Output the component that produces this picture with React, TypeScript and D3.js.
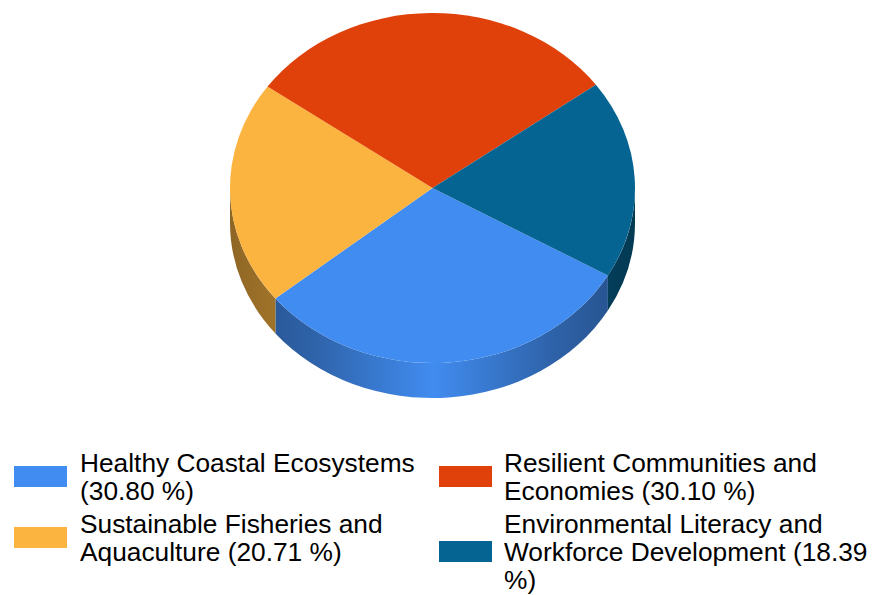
import React from "react";
import * as d3 from "d3";

const categories = [
  "Healthy Coastal Ecosystems",
  "Sustainable Fisheries and Aquaculture",
  "Resilient Communities and Economies",
  "Environmental Literacy and Workforce Development",
];
const values = [30.8, 20.71, 30.1, 18.39];
const colors = ["#418CF0", "#FCB441", "#E0400A", "#056492"];

const W = 875;
const H = 595;
const cx = 432.5;
const cy = 188;
const rx = 202.5;
const ry = 175;
const depth = 35;
const FONT = "26.3px 'Liberation Sans', Arial, sans-serif";

function wrap(text: string, maxW: number): string[] {
  const canvas = document.createElement("canvas");
  const ctx = canvas.getContext("2d")!;
  ctx.font = FONT;
  const words = text.split(" ");
  const lines: string[] = [];
  let cur = "";
  for (const w of words) {
    const t = cur ? cur + " " + w : w;
    if (ctx.measureText(t).width > maxW && cur) {
      lines.push(cur);
      cur = w;
    } else cur = t;
  }
  if (cur) lines.push(cur);
  return lines;
}

const pt = (a: number, dy = 0) => [cx + rx * Math.sin(a), cy - ry * Math.cos(a) + dy];

export default function App() {
  const pie = d3
    .pie<number>()
    .sort(null)
    .startAngle((120 * Math.PI) / 180)
    .endAngle((480 * Math.PI) / 180);
  const arcs = pie(values);
  const arcGen = d3.arc<d3.PieArcDatum<number>>().innerRadius(0).outerRadius(rx);

  const sides: { d: string; i: number }[] = [];
  arcs.forEach((a, i) => {
    for (let k = 0; k < 2; k++) {
      const lo = Math.max(a.startAngle, Math.PI / 2 + 2 * Math.PI * k);
      const hi = Math.min(a.endAngle, (3 * Math.PI) / 2 + 2 * Math.PI * k);
      if (hi > lo) {
        const [x0, y0] = pt(lo);
        const [x1, y1] = pt(hi);
        const d = `M${x0},${y0} A${rx},${ry} 0 0 1 ${x1},${y1} L${x1},${y1 + depth} A${rx},${ry} 0 0 0 ${x0},${y0 + depth} Z`;
        sides.push({ d, i });
      }
    }
  });

  const legendCols = [
    { sx: 14, tx: 80, maxW: 355 },
    { sx: 439, tx: 504, maxW: 372 },
  ];
  const rowTop = [463, 524];
  const lineH = 28;

  return (
    <svg
      width={W}
      height={H}
      style={{ position: "absolute", left: 0, top: 0, background: "#fff" }}
    >
      <defs>
        {colors.map((c, i) => {
          const base = d3.color(c)!;
          return (
            <linearGradient
              key={i}
              id={`side${i}`}
              gradientUnits="userSpaceOnUse"
              x1={cx - rx}
              x2={cx + rx}
              y1={0}
              y2={0}
            >
              <stop offset="0" stopColor={base.darker(1.6).toString()} />
              <stop offset="0.2" stopColor={base.darker(1.0).toString()} />
              <stop offset="0.5" stopColor={base.toString()} />
              <stop offset="0.8" stopColor={base.darker(1.0).toString()} />
              <stop offset="1" stopColor={base.darker(1.6).toString()} />
            </linearGradient>
          );
        })}
      </defs>
      {sides.map((s, j) => (
        <path key={j} d={s.d} fill={`url(#side${s.i})`} />
      ))}
      <g transform={`translate(${cx},${cy}) scale(1,${ry / rx})`}>
        {arcs.map((a, i) => (
          <path key={i} d={arcGen(a)!} fill={colors[i]} />
        ))}
      </g>
      {categories.map((c, i) => {
        const col = legendCols[Math.floor(i / 2)];
        const row = i % 2;
        const lines = wrap(`${c} (${values[i].toFixed(2)} %)`, col.maxW);
        const top = rowTop[row];
        const mid = top + ((lines.length - 1) * lineH) / 2;
        return (
          <g key={i}>
            <rect x={col.sx} y={mid - 11} width={53} height={21} fill={colors[i]} />
            {lines.map((l, j) => (
              <text
                key={j}
                x={col.tx}
                y={top + j * lineH + 9}
                style={{ font: FONT }}
                fill="#000"
              >
                {l}
              </text>
            ))}
          </g>
        );
      })}
    </svg>
  );
}
